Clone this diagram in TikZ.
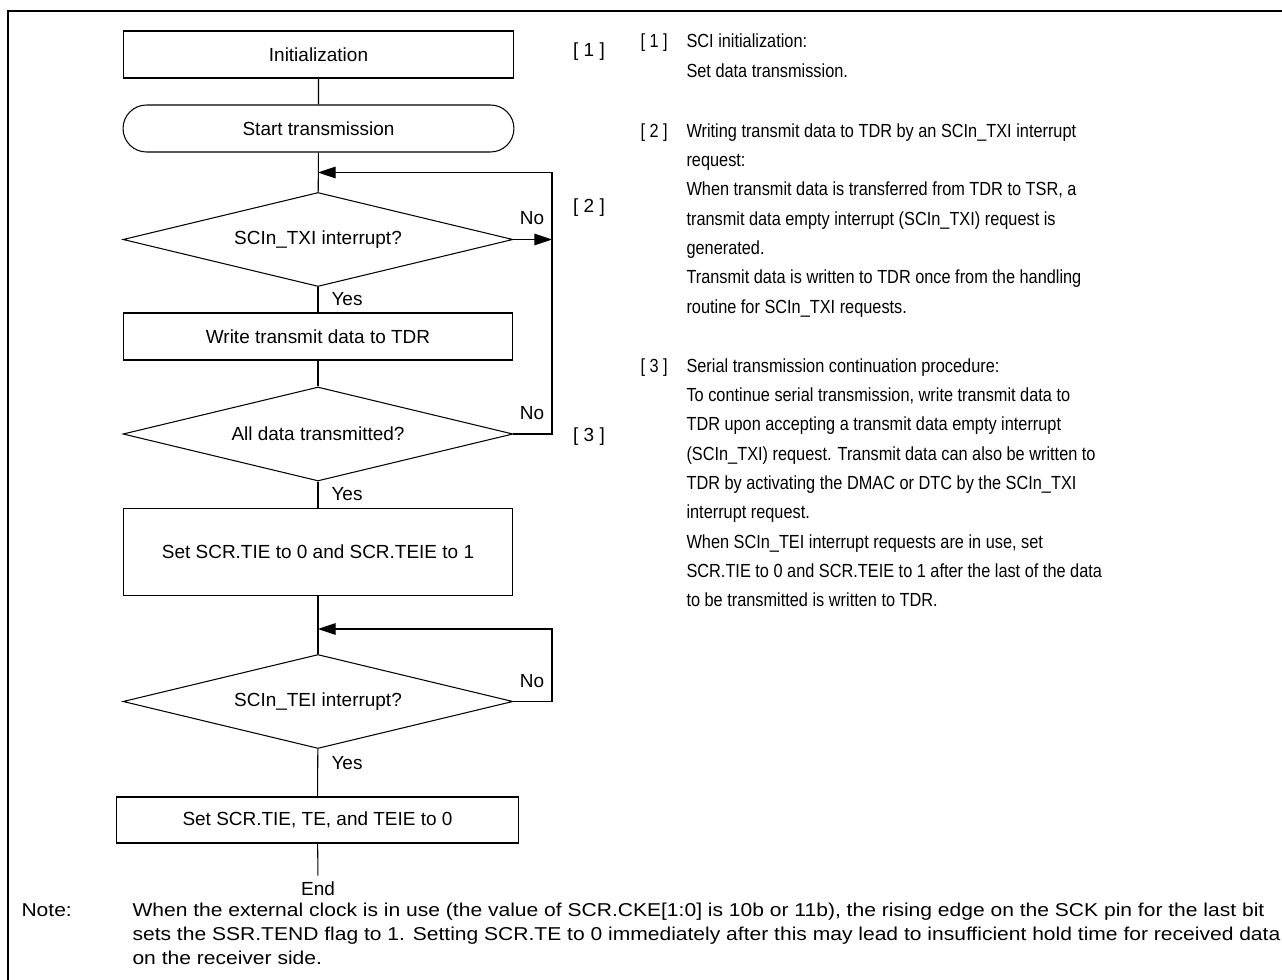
\documentclass[tikz,border=0pt]{standalone}
\usepackage{fontspec}
\setmainfont{Liberation Sans}
\newfontfamily\narrowfont[FakeStretch=0.86]{Liberation Sans}
\newfontfamily\widefont[FakeStretch=1.13]{Liberation Sans}
\usetikzlibrary{shapes.geometric,shapes.misc,arrows.meta}
\begin{document}
\begin{tikzpicture}[x=0.02cm,y=-0.02cm,line width=0.6pt,>={Triangle[length=10pt,width=6.6pt]},
font=\fontsize{10.8}{13}\selectfont,
proc/.style={draw,rectangle,inner sep=0pt,minimum width=7.8cm,minimum height=0.94cm},
term/.style={draw,rounded rectangle,inner sep=0pt,minimum width=7.82cm,minimum height=0.94cm},
dec/.style={draw,diamond,aspect=4.15,inner sep=0pt,minimum width=7.8cm,minimum height=1.88cm},
side/.style={anchor=base west,align=left,inner sep=0pt,font=\narrowfont\fontsize{10.8}{16.7}\selectfont},
note/.style={anchor=base west,align=left,inner sep=0pt,font=\widefont\fontsize{10.6}{13.8}\selectfont}]

\useasboundingbox (0,0) rectangle (1282,980);
\draw [line width=1.7pt] (8,980) -- (8,11) -- (1282,11);

\node [proc,minimum width=7.82cm] (init) at (318.5,54.5) {Initialization};
\node [term] (start) at (318.5,128.5) {Start transmission};
\node [dec] (txi) at (318,239.5) {SCIn\_TXI interrupt?};
\node [proc] (write) at (318,336.5) {Write transmit data to TDR};
\node [dec] (all) at (318,434) {All data transmitted?};
\node [proc,minimum height=1.74cm] (tie) at (318,552) {Set SCR.TIE to 0 and SCR.TEIE to 1};
\node [dec] (tei) at (318,701.5) {SCIn\_TEI interrupt?};
\node [proc,minimum width=8.06cm,minimum height=0.92cm] (off) at (317.5,820) {Set SCR.TIE, TE, and TEIE to 0};
\node (end) at (318,889) {End};

\coordinate (j1) at (318,172.5);
\coordinate (r1) at (552,172.5);
\coordinate (j2) at (318,629);
\coordinate (r2) at (552,629);

\foreach \a/\b in {init/start, start/txi, txi/write, write/all, all/tie, tie/tei, tei/off, off/end}{
\draw (\a) -- (\b);
}
\draw [->] (txi.east) -- (txi.east -| r1);
\draw [->] (all.east) -- (all.east -| r1) -- (r1) -- (j1);
\draw [->] (tei.east) -- (tei.east -| r2) -- (r2) -- (j2);

\foreach \y/\i in {218/1, 413/2, 681/3}{
\node (no\i) at (532,\y) {No};
}
\foreach \y/\i in {299/1, 494/2, 763/3}{
\node (yes\i) at (347,\y) {Yes};
}
\foreach \y/\i in {52/1, 208/2, 437/3}{
\node (tag\i) at (589,\y) {[ \i\ ]};
}

\node [side] (key1) at (640,48) {[ 1 ]};
\node [side] (key2) at (640,137) {[ 2 ]};
\node [side] (key3) at (640,372) {[ 3 ]};

\node [side] (text1) at (686,77.3) {SCI initialization:\\Set data transmission.};
\node [side] (text2) at (686,313.1) {Writing transmit data to TDR by an SCIn\_TXI interrupt\\request:\\When transmit data is transferred from TDR to TSR, a\\transmit data empty interrupt (SCIn\_TXI) request is\\generated.\\Transmit data is written to TDR once from the handling\\routine for SCIn\_TXI requests.};
\node [side] (text3) at (686,606.8) {Serial transmission continuation procedure:\\To continue serial transmission, write transmit data to\\TDR upon accepting a transmit data empty interrupt\\(SCIn\_TXI) request. Transmit data can also be written to\\TDR by activating the DMAC or DTC by the SCIn\_TXI\\interrupt request.\\When SCIn\_TEI interrupt requests are in use, set\\SCR.TIE to 0 and SCR.TEIE to 1 after the last of the data\\to be transmitted is written to TDR.};

\node [note] (notekey) at (21,916) {Note:};
\node [note] (notetext) at (132,964.5) {When the external clock is in use (the value of SCR.CKE[1:0] is 10b or 11b), the rising edge on the SCK pin for the last bit\\sets the SSR.TEND flag to 1. Setting SCR.TE to 0 immediately after this may lead to insufficient hold time for received data\\on the receiver side.};

\end{tikzpicture}
\end{document}
